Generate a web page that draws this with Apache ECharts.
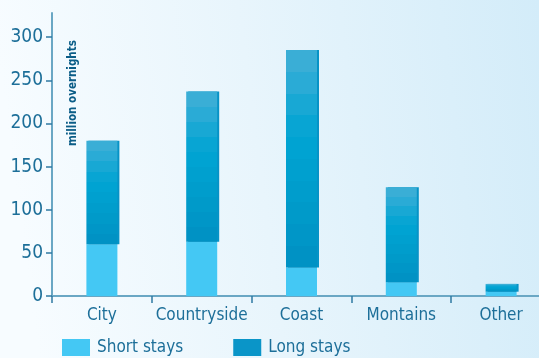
<!DOCTYPE html>
<html>
<head>
<meta charset="utf-8">
<script src="https://cdn.jsdelivr.net/npm/echarts@6/dist/echarts.min.js"></script>
<style>
  html, body { margin: 0; padding: 0; }
  #chart { width: 539px; height: 358px; }
</style>
</head>
<body>
<div id="chart"></div>
<script>
// Overnight stays by destination type, in million overnights
const categories = ['City', 'Countryside', 'Coast', 'Montains', 'Other'];
const shortStays = [60, 63, 33, 16, 5];
const longStays = [120, 174, 252, 110, 9];
const yTicks = [0, 50, 100, 150, 200, 250, 300];

const FONT = '"Liberation Sans Narrow", "DejaVu Sans Condensed", "Arial Narrow", sans-serif';
const TEXT = '#1d6f99';
const AXIS = '#6aa7c4';
const TICK = '#2f7aa3';

// Long stays fill: ten stepped shades, light at the top to deep blue at the base
const bandColors = ['#3aaed6', '#2aabd6', '#18a8d4', '#08a5d3', '#00a3d2',
                    '#00a0cf', '#009dcc', '#009ac9', '#0096c7', '#0092c4'];
const bandStops = [];
bandColors.forEach((c, i) => {
  bandStops.push({ offset: i / bandColors.length, color: c });
  bandStops.push({ offset: (i + 1) / bandColors.length, color: c });
});

const chart = echarts.init(document.getElementById('chart'), null, { renderer: 'canvas' });

chart.setOption({
  animation: false,
  backgroundColor: {
    type: 'linear', x: 0, y: 0.2, x2: 1, y2: 0,
    colorStops: [
      { offset: 0, color: '#f7fcff' },
      { offset: 0.45, color: '#e8f5fc' },
      { offset: 1, color: '#d3ecf9' }
    ]
  },
  // the plot runs a little past the right edge, so the last category is cut
  grid: {
    left: 52, width: 499, top: 13, height: 283,
    containLabel: false, outerBoundsMode: 'none'
  },
  legend: {
    left: 62, top: 339, padding: 0,
    itemWidth: 28, itemHeight: 17, itemGap: 50,
    icon: 'rect',
    textStyle: { fontFamily: FONT, fontSize: 17, color: TEXT, padding: [0, 0, 0, 2] },
    data: [
      { name: 'Short stays', itemStyle: { color: '#44c8f4' } },
      { name: 'Long stays', itemStyle: { color: '#0a95c8' } }
    ]
  },
  xAxis: {
    type: 'category',
    data: categories,
    axisLine: { lineStyle: { color: AXIS, width: 2 } },
    axisTick: { show: true, interval: 0, length: 7, lineStyle: { color: TICK, width: 1.5 } },
    axisLabel: { interval: 0, margin: 11, fontFamily: FONT, fontSize: 17, color: TEXT }
  },
  yAxis: {
    type: 'value',
    min: 0, max: 328, interval: 50,
    splitLine: { show: false },
    axisLine: { show: true, lineStyle: { color: AXIS, width: 2 } },
    axisTick: { show: true, length: 6, customValues: yTicks, lineStyle: { color: TICK, width: 1.5 } },
    axisLabel: { customValues: yTicks, margin: 9, fontFamily: FONT, fontSize: 19, color: TEXT }
  },
  graphic: [{
    type: 'text',
    x: 73, y: 146,
    rotation: Math.PI / 2,
    style: {
      text: 'million overnights',
      fontFamily: FONT, fontSize: 11.5, fontWeight: 'bold',
      fill: '#0b5d87',
      textAlign: 'left', textVerticalAlign: 'middle'
    }
  }],
  series: [
    {
      name: 'Short stays', type: 'bar', stack: 'stays', barWidth: 31,
      itemStyle: { color: '#44c8f4' },
      data: shortStays
    },
    {
      name: 'Long stays', type: 'bar', stack: 'stays', barWidth: 31,
      itemStyle: {
        color: { type: 'linear', x: 0, y: 0, x2: 0, y2: 1, colorStops: bandStops },
        shadowColor: '#0793c6', shadowBlur: 0, shadowOffsetX: 2, shadowOffsetY: 0
      },
      data: longStays
    }
  ]
});
</script>
</body>
</html>
